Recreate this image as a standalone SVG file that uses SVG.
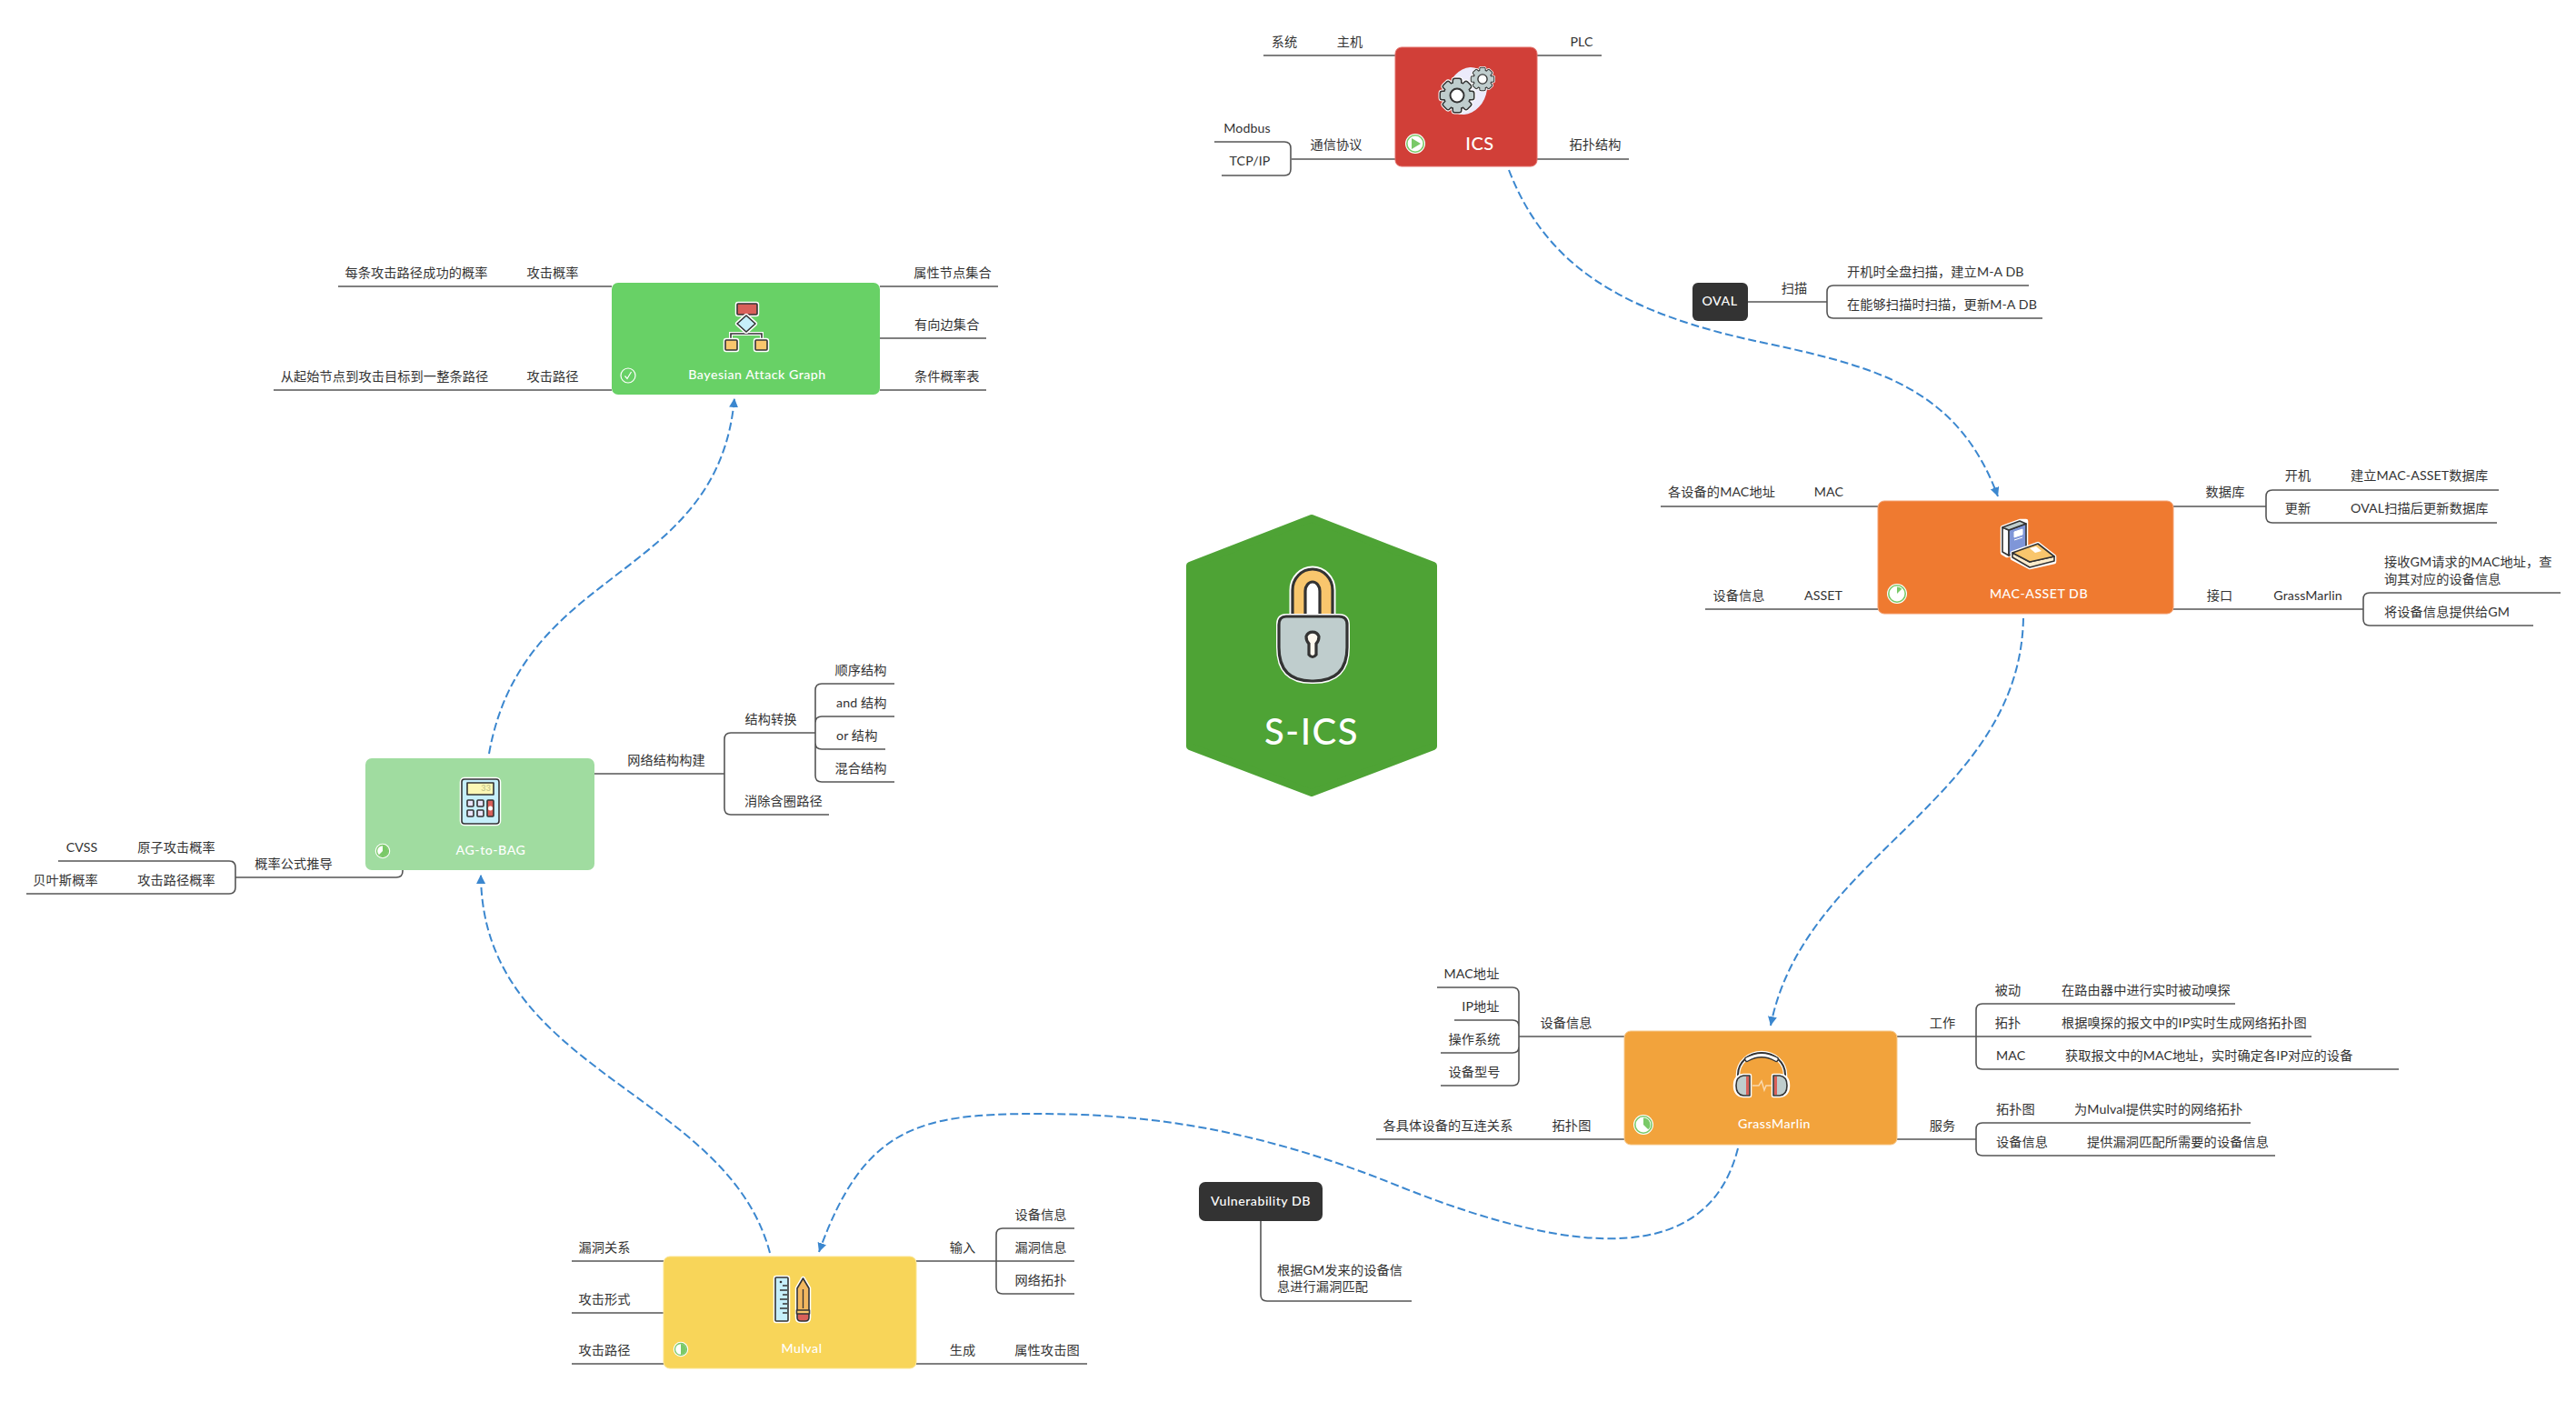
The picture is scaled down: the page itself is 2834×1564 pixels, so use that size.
<svg xmlns="http://www.w3.org/2000/svg" width="2834" height="1564" viewBox="0 0 2834 1564">
<style>
text{font-family:Lato,"Noto Sans CJK SC",sans-serif;font-size:14.2px;fill:#333;dominant-baseline:central;letter-spacing:.1px;transform:translateY(-1.4px)}
.m{text-anchor:middle}
.w{fill:#fff;text-anchor:middle;font-weight:500;letter-spacing:.5px}
.b{fill:none;stroke:#555;stroke-width:1.6}
.rel{fill:none;stroke:#3b87cf;stroke-width:2;stroke-dasharray:9 4;marker-end:url(#arr)}
.k{stroke:#333;stroke-width:1.6;stroke-linejoin:round}
.h{fill:#fff;stroke:#fff;stroke-width:4.5;stroke-linejoin:round}
.g{fill:#7ac968}
</style>
<defs>
<marker id="arr" markerUnits="userSpaceOnUse" markerWidth="12" markerHeight="12" refX="10" refY="5" orient="auto"><path d="M0 0L10 5L0 10Z" fill="#3b87cf"/></marker>
<g id="gear">
<circle r="14"/>
<rect x="-4" y="-18" width="8" height="8" rx="1.5"/>
<rect x="-4" y="-18" width="8" height="8" rx="1.5" transform="rotate(45)"/>
<rect x="-4" y="-18" width="8" height="8" rx="1.5" transform="rotate(90)"/>
<rect x="-4" y="-18" width="8" height="8" rx="1.5" transform="rotate(135)"/>
<rect x="-4" y="-18" width="8" height="8" rx="1.5" transform="rotate(180)"/>
<rect x="-4" y="-18" width="8" height="8" rx="1.5" transform="rotate(225)"/>
<rect x="-4" y="-18" width="8" height="8" rx="1.5" transform="rotate(270)"/>
<rect x="-4" y="-18" width="8" height="8" rx="1.5" transform="rotate(315)"/>
</g>
<g id="gearFull">
<use href="#gear" fill="#fff" stroke="#fff" stroke-width="5"/>
<use href="#gear" fill="#333" stroke="#333" stroke-width="3"/>
<use href="#gear" fill="#bfcdcd" stroke="none"/>
<circle r="7.5" fill="#fff" stroke="#333" stroke-width="2"/>
</g>
<circle id="badge" r="11" fill="#fff"/>
<circle id="ring" r="9.2" fill="#fff" stroke="#7ac968" stroke-width="1.6"/>
</defs>

<g id="connectors">
<path class="b" d="M1390 61H1535M1691 61H1762M1421 175H1535M1336 156H1413Q1420 156 1420 163V186Q1420 193 1413 193H1344M1691 175H1792"/>
<path class="b" d="M1923 332H2010M2232 314H2017Q2010 314 2010 321V343Q2010 350 2017 350H2247"/>
<path class="b" d="M1827 557H2066M1876 670H2066M2391 557H2493M2749 539H2500Q2493 539 2493 546V568Q2493 575 2500 575H2747M2391 670H2600M2817 652H2607Q2600 652 2600 659V681Q2600 688 2607 688H2787"/>
<path class="b" d="M1671 1140H1787M1581 1086H1664Q1671 1086 1671 1093V1187Q1671 1194 1664 1194H1585M1600 1122H1664Q1671 1122 1671 1129V1151Q1671 1158 1664 1158H1585M1514 1253H1787M2087 1140H2174M2459 1104H2181Q2174 1104 2174 1111V1169Q2174 1176 2181 1176H2639M2174 1140H2543M2087 1253H2174M2476 1235H2181Q2174 1235 2174 1242V1264Q2174 1271 2181 1271H2503"/>
<path class="b" d="M629 1387H730M629 1444H730M629 1500H730M1008 1387H1096M1182 1351H1103Q1096 1351 1096 1358V1416Q1096 1423 1103 1423H1182M1096 1387H1182M1008 1500H1196"/>
<path class="b" d="M1387 1343V1424Q1387 1431 1394 1431H1553"/>
<path class="b" d="M654 851H797M897 806H804Q797 806 797 813V889Q797 896 804 896H912M984 752H904Q897 752 897 759V853Q897 860 904 860H984M984 788H904Q897 788 897 795V817Q897 824 904 824H974M443 957V958Q443 965 436 965H259M64 947H252Q259 947 259 954V976Q259 983 252 983H29"/>
<path class="b" d="M372 315H673M301 429H673M968 315H1098M968 372H1085M968 429H1085"/>
<path class="rel" d="M1660 187C1700 290 1780 345 1950 379C2070 405 2155 430 2198 546"/>
<path class="rel" d="M2226 680C2222 880 1985 940 1948 1128"/>
<path class="rel" d="M1912 1263C1880 1390 1740 1385 1540 1305C1380 1240 1260 1225 1140 1225C1010 1225 950 1240 901 1377"/>
<path class="rel" d="M847 1378C800 1200 530 1180 529 962"/>
<path class="rel" d="M538 829C575 620 790 640 808 438"/>
</g>

<g id="root">
<polygon points="1443,570 1577,622 1577,821 1443,872 1309,821 1309,622" fill="#4ea335" stroke="#4ea335" stroke-width="8" stroke-linejoin="round"/>
<path d="M1422 682V649A22 23 0 0 1 1466 649V682Z" fill="#fff" stroke="#fff" stroke-width="7"/>
<path d="M1422 682V649A22 23 0 0 1 1466 649V682Z" fill="#f9c66d" stroke="#333" stroke-width="3.2"/>
<path d="M1436 682V650A8 10 0 0 1 1452 650V682Z" fill="#fff" stroke="#333" stroke-width="3.2"/>
<path d="M1415 678H1473Q1482 678 1482 687V712Q1482 749 1445 749H1443Q1407 749 1407 712V687Q1407 678 1415 678Z" fill="#bfcdcd" stroke="#fff" stroke-width="6"/>
<path d="M1415 678H1473Q1482 678 1482 687V712Q1482 749 1445 749H1443Q1407 749 1407 712V687Q1407 678 1415 678Z" fill="#bfcdcd" stroke="#333" stroke-width="3.2"/>
<path d="M1437 700A7.500 7.500 0 0 1 1451 700Q1451 705 1448 708V720Q1444 725 1440 720V708Q1437 705 1437 700Z" fill="#fdf8ee" stroke="#333" stroke-width="3.2"/>
<text class="w" x="1443" y="805.500" style="font-size:40px;letter-spacing:1.500px">S-ICS</text>
</g>

<g id="ics">
<rect x="1535" y="52" width="156" height="131" rx="7" fill="#d13f38" stroke="#e26f69" stroke-width="1"/>
<ellipse cx="1614" cy="100" rx="21" ry="27" transform="rotate(25 1614 100)" fill="#ecebfb"/>
<use href="#gearFull" transform="translate(1603 105)"/>
<use href="#gearFull" transform="translate(1631 87) scale(.68)"/>
<use href="#badge" transform="translate(1557 158)"/><use href="#ring" transform="translate(1557 158)"/>
<path class="g" d="M1553 152L1563 158L1553 164Z"/>
<text class="w" x="1628" y="158" style="font-size:20px">ICS</text>
<text class="m" x="1413" y="47">系统</text><text class="m" x="1485" y="47">主机</text>
<text class="m" x="1740" y="47">PLC</text>
<text class="m" x="1470" y="160">通信协议</text>
<text class="m" x="1372" y="142">Modbus</text><text class="m" x="1375" y="178">TCP/IP</text>
<text class="m" x="1755" y="160">拓扑结构</text>
</g>

<g id="oval">
<rect x="1862" y="311" width="61" height="42" rx="6" fill="#333"/>
<text class="w" x="1892" y="332">OVAL</text>
<text class="m" x="1974" y="318">扫描</text>
<text x="2032" y="300">开机时全盘扫描，建立M-A DB</text>
<text x="2032" y="336">在能够扫描时扫描，更新M-A DB</text>
</g>

<g id="mac-asset">
<rect x="2066" y="551" width="325" height="124" rx="7" fill="#ef7a30" stroke="#f4a071" stroke-width="1"/>
<path class="h" d="M2203 580L2222 573H2229V604L2208 611L2203 608Z"/>
<path d="M2203 580L2210 583V611L2203 607Z" fill="#fff" class="k"/>
<path d="M2210 583L2229 576V604L2210 611Z" fill="#7f96d8" class="k"/>
<path d="M2203 580L2222 573L2229 576L2210 583Z" fill="#bfcdcd" class="k"/>
<path d="M2216 585L2225 582V588L2216 591ZM2216 594L2225 591" fill="#fff" stroke="#fff"/>
<path class="h" d="M2214 608L2242 598L2260 612V618L2233 624L2214 614Z"/>
<path d="M2214 608L2233 618L2260 612V617L2233 624L2214 613Z" fill="#fdeccb" class="k"/>
<path d="M2214 608L2242 598L2260 612L2233 618Z" fill="#f9c66d" class="k"/>
<path d="M2233 603L2240 601L2246 606L2239 608Z" fill="#fff"/>
<use href="#badge" transform="translate(2087 653)"/><use href="#ring" transform="translate(2087 653)"/>
<path class="g" d="M2087 653V645.500A7.500 7.500 0 0 1 2092.300 647.700Z"/>
<text class="w" x="2243" y="654">MAC-ASSET DB</text>
<text class="m" x="1894" y="542">各设备的MAC地址</text><text class="m" x="2012" y="542">MAC</text>
<text class="m" x="1913" y="656">设备信息</text><text class="m" x="2006" y="656">ASSET</text>
<text class="m" x="2448" y="542">数据库</text>
<text class="m" x="2528" y="524">开机</text><text x="2586" y="524">建立MAC-ASSET数据库</text>
<text class="m" x="2528" y="560">更新</text><text x="2586" y="560">OVAL扫描后更新数据库</text>
<text class="m" x="2442" y="656">接口</text><text class="m" x="2539" y="656">GrassMarlin</text>
<text x="2623" y="619">接收GM请求的MAC地址，查</text><text x="2623" y="638">询其对应的设备信息</text>
<text x="2623" y="674">将设备信息提供给GM</text>
</g>

<g id="grassmarlin">
<rect x="1787" y="1134" width="300" height="125" rx="7" fill="#f2a33c" stroke="#f7c88b" stroke-width="1"/>
<path d="M1912 1188V1182A26 24 0 0 1 1964 1182V1188" fill="none" stroke="#fff" stroke-width="4.500"/>
<path d="M1912 1188V1182A26 24 0 0 1 1964 1182V1188" fill="none" stroke="#333" stroke-width="2"/>
<path d="M1922 1165Q1938 1156 1954 1165" fill="none" stroke="#333" stroke-width="6" stroke-linecap="round"/>
<path d="M1922 1165Q1938 1156 1954 1165" fill="none" stroke="#fff" stroke-width="3.200" stroke-linecap="round"/>
<path class="h" d="M1925 1183H1918Q1909 1184 1909 1194Q1909 1204 1918 1205H1925Z"/>
<path class="h" d="M1951 1183H1958Q1967 1184 1967 1194Q1967 1204 1958 1205H1951Z"/>
<path class="k" fill="#bfcdcd" d="M1925 1183H1918Q1910 1184 1910 1194Q1910 1204 1918 1205H1925Z"/>
<path class="k" fill="#bfcdcd" d="M1951 1183H1958Q1966 1184 1966 1194Q1966 1204 1958 1205H1951Z"/>
<rect x="1921" y="1184" width="3" height="20" fill="#d9605a"/><rect x="1952" y="1184" width="3" height="20" fill="#d9605a"/>
<polyline points="1928,1194 1935,1194 1938,1189 1941,1199 1943,1194 1949,1194" fill="none" stroke="#f9d9ad" stroke-width="1.500"/>
<use href="#badge" transform="translate(1808 1237)"/><use href="#ring" transform="translate(1808 1237)"/>
<path class="g" d="M1808 1237V1229.500A7.500 7.500 0 0 1 1813.300 1242.300Z"/>
<text class="w" x="1952" y="1237">GrassMarlin</text>
<text class="m" x="1723" y="1126">设备信息</text>
<text class="m" x="1619" y="1072">MAC地址</text><text class="m" x="1629" y="1108">IP地址</text>
<text class="m" x="1622" y="1144">操作系统</text><text class="m" x="1622" y="1180">设备型号</text>
<text class="m" x="1593" y="1239">各具体设备的互连关系</text><text class="m" x="1729" y="1239">拓扑图</text>
<text class="m" x="2137" y="1126">工作</text>
<text class="m" x="2209" y="1090">被动</text><text x="2268" y="1090">在路由器中进行实时被动嗅探</text>
<text class="m" x="2209" y="1126">拓扑</text><text x="2268" y="1126">根据嗅探的报文中的IP实时生成网络拓扑图</text>
<text x="2196" y="1162">MAC</text><text x="2272" y="1162">获取报文中的MAC地址，实时确定各IP对应的设备</text>
<text class="m" x="2137" y="1239">服务</text>
<text x="2196" y="1221">拓扑图</text><text x="2282" y="1221">为Mulval提供实时的网络拓扑</text>
<text x="2196" y="1257">设备信息</text><text x="2296" y="1257">提供漏洞匹配所需要的设备信息</text>
</g>

<g id="vulnerability-db">
<rect x="1319" y="1300" width="136" height="43" rx="7" fill="#333"/>
<text class="w" x="1387" y="1322">Vulnerability DB</text>
<text x="1405" y="1398">根据GM发来的设备信</text><text x="1405" y="1416">息进行漏洞匹配</text>
</g>

<g id="mulval">
<rect x="730" y="1382" width="278" height="123" rx="7" fill="#f8d559" stroke="#fbe48f" stroke-width="1"/>
<rect class="h" x="853" y="1405" width="14" height="48" rx="1"/>
<rect class="k" x="853" y="1405" width="14" height="48" rx="1" fill="#c6effa"/>
<path d="M866 1414H861M866 1419H858M866 1424H861M866 1429H858M866 1434H861M866 1439H858M866 1444H861" stroke="#333" stroke-width="1.300"/>
<circle cx="859" cy="1410" r="1.300" fill="#333"/>
<path class="h" d="M877 1417L883.500 1406L890 1417V1449Q890 1453 886 1453H881Q877 1453 877 1449Z"/>
<path class="k" fill="#f2b85f" d="M877 1417L883.500 1406L890 1417V1443H877Z"/>
<path class="k" fill="#d9605a" d="M877 1443H890V1449Q890 1453 886 1453H881Q877 1453 877 1449Z"/>
<rect class="k" x="876.500" y="1441" width="14" height="4" fill="#f9c66d"/>
<path d="M883.500 1418V1439" stroke="#333" stroke-width="1.300"/>
<use href="#badge" transform="translate(749 1484) scale(.75)"/>
<circle cx="749" cy="1484" r="6.500" fill="#fff" stroke="#7ac968" stroke-width="1.300"/>
<path class="g" d="M749 1478A6 6 0 0 1 749 1490Z"/>
<text class="w" x="882" y="1484">Mulval</text>
<text class="m" x="665" y="1373">漏洞关系</text><text class="m" x="665" y="1430">攻击形式</text><text class="m" x="665" y="1486">攻击路径</text>
<text class="m" x="1059" y="1373">输入</text>
<text class="m" x="1145" y="1337">设备信息</text><text class="m" x="1145" y="1373">漏洞信息</text><text class="m" x="1145" y="1409">网络拓扑</text>
<text class="m" x="1059" y="1486">生成</text><text class="m" x="1152" y="1486">属性攻击图</text>
</g>

<g id="ag-to-bag">
<rect x="402" y="834" width="252" height="123" rx="7" fill="#a0dca0"/>
<rect class="h" x="508" y="857" width="41" height="49" rx="3"/>
<rect class="k" x="508" y="857" width="41" height="49" rx="3" fill="#c6effa" stroke-width="2"/>
<rect class="k" x="514" y="861" width="29" height="13" fill="#fbf7b5"/>
<text x="540" y="868" style="font-size:9px;fill:#c9c98f;text-anchor:end;font-weight:700">33</text>
<g class="k" fill="#e9e5fb"><rect x="514" y="880" width="7" height="7" rx="1"/><rect x="525" y="880" width="7" height="7" rx="1"/><rect x="514" y="891" width="7" height="7" rx="1"/><rect x="525" y="891" width="7" height="7" rx="1"/></g>
<rect class="k" x="536" y="880" width="7" height="18" rx="1" fill="#d9605a"/>
<circle cx="539.500" cy="889" r="2.500" fill="#fff"/>
<use href="#badge" transform="translate(421 936) scale(.75)"/>
<circle cx="421" cy="936" r="6.500" fill="#fff" stroke="#7ac968" stroke-width="1.300"/>
<path class="g" d="M421 936V930A6 6 0 1 1 416.800 940.200Z"/>
<text class="w" x="540" y="936">AG-to-BAG</text>
<text class="m" x="733" y="837">网络结构构建</text>
<text class="m" x="848" y="792">结构转换</text>
<text class="m" x="947" y="738">顺序结构</text><text x="920" y="774">and 结构</text><text x="920" y="810">or 结构</text><text class="m" x="947" y="846">混合结构</text>
<text x="819" y="882">消除含圈路径</text>
<text class="m" x="323" y="951">概率公式推导</text>
<text class="m" x="90" y="933">CVSS</text><text class="m" x="194" y="933">原子攻击概率</text>
<text class="m" x="72" y="969">贝叶斯概率</text><text class="m" x="194" y="969">攻击路径概率</text>
</g>

<g id="bayesian-attack-graph">
<rect x="673" y="311" width="295" height="123" rx="7" fill="#68d166"/>
<path d="M821 346V368M804 378V367H838V378" fill="none" stroke="#fff" stroke-width="4"/>
<path d="M821 346V368M804 378V367H838V378" fill="none" stroke="#333" stroke-width="1.600"/>
<rect class="h" x="811" y="334" width="22" height="12" rx="1"/><rect class="k" x="811" y="334" width="22" height="12" rx="1" fill="#d9605a"/>
<path class="h" d="M821 347L831 356L821 365L811 356Z"/><path class="k" d="M821 347L831 356L821 365L811 356Z" fill="#c6effa"/>
<rect class="h" x="798" y="374" width="13" height="11" rx="1"/><rect class="k" x="798" y="374" width="13" height="11" rx="1" fill="#f9c66d"/>
<rect class="h" x="831" y="374" width="13" height="11" rx="1"/><rect class="k" x="831" y="374" width="13" height="11" rx="1" fill="#f9c66d"/>
<circle cx="691" cy="413" r="8" fill="none" stroke="#fff" stroke-width="1.200"/>
<path d="M687.500 413.500L690 416.500L694.500 409" fill="none" stroke="#fff" stroke-width="1.200"/>
<text class="w" x="833" y="413">Bayesian Attack Graph</text>
<text class="m" x="458" y="301">每条攻击路径成功的概率</text><text class="m" x="608" y="301">攻击概率</text>
<text class="m" x="423" y="415">从起始节点到攻击目标到一整条路径</text><text class="m" x="608" y="415">攻击路径</text>
<text class="m" x="1048" y="301">属性节点集合</text>
<text x="1006" y="358">有向边集合</text><text x="1006" y="415">条件概率表</text>
</g>
</svg>
